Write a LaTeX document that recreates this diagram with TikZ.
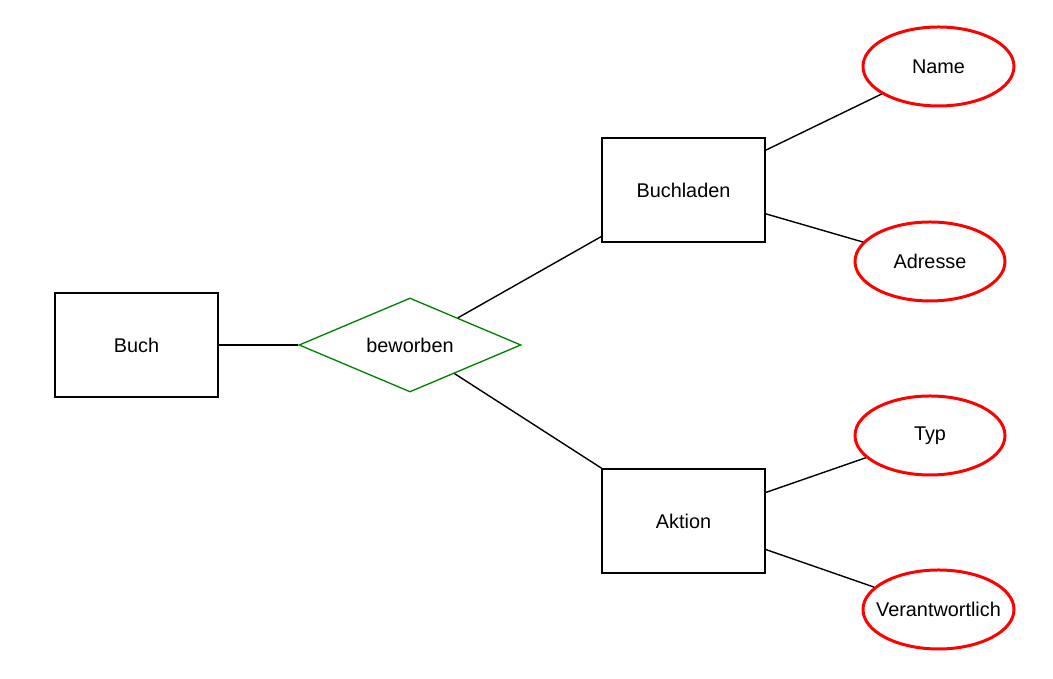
\documentclass[tikz,border=0pt]{standalone}
\usepackage{fontspec}
\setmainfont{Liberation Sans}
\usetikzlibrary{shapes.geometric}
\definecolor{relgreen}{RGB}{0,128,0}
\begin{document}
\begin{tikzpicture}[
    node distance=5.47cm,
    font=\fontsize{11.3}{13}\selectfont,
    entity/.style={rectangle, draw=black, line width=0.8pt, minimum width=3.26cm, minimum height=2.08cm, align=center, fill=white},
    relation/.style={diamond, aspect=2.36, draw=relgreen, line width=0.75pt, minimum width=4.44cm, minimum height=1.88cm, inner sep=0pt, align=center, fill=white},
    attribute/.style={ellipse, draw=red, line width=1.7pt, minimum width=3.0cm, minimum height=1.58cm, inner sep=0pt, align=center, fill=white},
    connector/.style={-, line width=0.8pt, black}
]
\useasboundingbox (0,0) rectangle (21.06,13.58);
\node[entity] (buch) at (2.73,6.68) {Buch};
\node[relation, right of=buch] (beworben) {beworben};
\node[entity] (buchladen) at (13.67,9.78) {Buchladen};
\node[entity] (aktion) at (13.67,3.16) {Aktion};
\node[attribute, minimum width=3.02cm] (name) at (18.77,12.25) {Name};
\node[attribute] (adresse) at (18.60,8.35) {Adresse};
\node[attribute] (typ) at (18.60,4.87) {Typ};
\node[attribute, minimum width=3.02cm] (verantw) at (18.77,1.39) {\makebox[1.5cm]{Verantwortlich}};

\draw[connector] (buch) -- (beworben);
\draw[connector] (beworben) -- (buchladen);
\draw[connector] (beworben) -- (aktion);
\draw[connector] (buchladen) -- (name);
\draw[connector] (buchladen) -- (adresse);
\draw[connector] (aktion) -- (typ);
\draw[connector] (aktion) -- (verantw);
\end{tikzpicture}
\end{document}
